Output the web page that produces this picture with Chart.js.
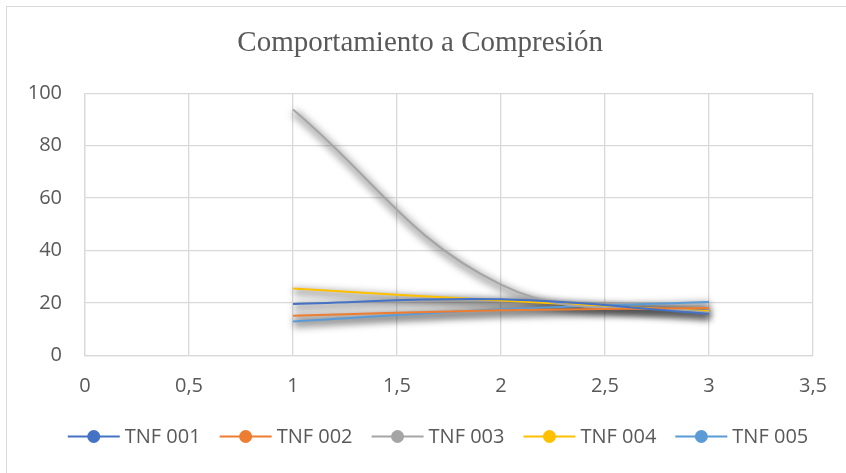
<!DOCTYPE html>
<html>
<head>
<meta charset="utf-8">
<script src="https://cdn.jsdelivr.net/npm/chart.js@4"></script>
<style>
  html, body { margin: 0; padding: 0; background: #ffffff; }
  #wrap { width: 846px; height: 473px; }
</style>
</head>
<body>
<div id="wrap"><canvas id="c" width="846" height="473"></canvas></div>
<script>
// Ensayo a compresión: valores por edad de ensayo
const seriesNames = ['TNF 001', 'TNF 002', 'TNF 003', 'TNF 004', 'TNF 005'];
const xValues = [1, 2, 3];
const tnf001 = [19.6, 21.4, 15.9];
const tnf002 = [15.1, 17.2, 18.1];
const tnf003 = [93.8, 27.0, 16.3];
const tnf004 = [25.5, 20.9, 16.8];
const tnf005 = [12.9, 17.6, 20.4];
const seriesColors = ['#4472C4', '#ED7D31', '#A5A5A5', '#FFC000', '#5B9BD5'];
const xTickLabels = ['0', '0,5', '1', '1,5', '2', '2,5', '3', '3,5'];
const yTickLabels = ['0', '20', '40', '60', '80', '100'];

const allSeries = [tnf001, tnf002, tnf003, tnf004, tnf005];
const TEXT = '#595959';
const GRID = '#D9D9D9';
const FONT = '20px "Open Sans"';

const datasets = seriesNames.map((name, i) => ({
  label: name,
  data: xValues.map((x, j) => ({ x: x, y: allSeries[i][j] })),
  borderColor: seriesColors[i],
  backgroundColor: seriesColors[i],
  borderWidth: 2,
  pointRadius: 0,
  pointHoverRadius: 0,
  tension: 0.4,
  fill: false
}));

// Outer frame, soft shadow under the lines, and the legend row
const decor = {
  id: 'decor',
  beforeDraw(chart) {
    const ctx = chart.ctx;
    ctx.save();
    ctx.fillStyle = '#ffffff';
    ctx.fillRect(0, 0, chart.width, chart.height);
    ctx.strokeStyle = GRID;
    ctx.lineWidth = 1;
    ctx.strokeRect(6.5, 6.5, 900, 900);
    ctx.restore();
  },
  beforeDatasetsDraw(chart) {
    // blurred, thickened copy of every line path, drawn before the lines themselves
    const ctx = chart.ctx;
    ctx.save();
    ctx.filter = 'blur(3.5px)';
    ctx.translate(1, 3);
    chart.getSortedVisibleDatasetMetas().forEach(meta => {
      const el = meta.dataset;
      const orig = el.options;
      el.options = Object.assign({}, orig, { borderColor: 'rgba(40,40,40,0.36)', borderWidth: 8 });
      el.draw(ctx, chart.chartArea);
      el.options = orig;
    });
    ctx.restore();
  },
  afterDraw(chart) {
    const ctx = chart.ctx;
    const sets = chart.data.datasets;
    const lineLen = 52, gapText = 5, gapItem = 19, y = 436.5;
    ctx.save();
    ctx.font = FONT;
    const widths = sets.map(d => ctx.measureText(d.label).width);
    const total = widths.reduce((a, w) => a + lineLen + gapText + w, 0) + gapItem * (sets.length - 1);
    let x = 438 - total / 2;
    sets.forEach((d, i) => {
      ctx.strokeStyle = d.borderColor;
      ctx.lineWidth = 2;
      ctx.beginPath(); ctx.moveTo(x, y); ctx.lineTo(x + lineLen, y); ctx.stroke();
      ctx.fillStyle = d.borderColor;
      ctx.beginPath(); ctx.arc(x + lineLen / 2, y, 6.5, 0, Math.PI * 2); ctx.fill();
      ctx.fillStyle = TEXT;
      ctx.textAlign = 'left';
      ctx.textBaseline = 'middle';
      ctx.fillText(d.label, x + lineLen + gapText, y + 1);
      x += lineLen + gapText + widths[i] + gapItem;
    });
    ctx.restore();
  }
};

new Chart(document.getElementById('c'), {
  type: 'line',
  data: { datasets: datasets },
  plugins: [decor],
  options: {
    responsive: false,
    animation: false,
    events: [],
    layout: { padding: { left: 27, right: 32.7, top: 10, bottom: 55.6 } },
    scales: {
      x: {
        type: 'linear',
        min: 0, max: 3.5,
        ticks: {
          stepSize: 0.5,
          padding: 19,
          color: TEXT,
          font: { family: 'Open Sans', size: 20 },
          callback: (v, i) => xTickLabels[i]
        },
        grid: { color: GRID, lineWidth: 1.3, drawTicks: false },
        border: { color: GRID, width: 1.3 }
      },
      y: {
        min: 0, max: 100,
        ticks: {
          stepSize: 20,
          padding: 23,
          color: TEXT,
          font: { family: 'Open Sans', size: 20 },
          callback: (v, i) => yTickLabels[i]
        },
        grid: { color: GRID, lineWidth: 1.3, drawTicks: false },
        border: { color: GRID, width: 1.3 },
        afterFit(scale) { scale.width = 58; }
      }
    },
    plugins: {
      title: {
        display: true,
        text: 'Comportamiento a Compresión',
        color: TEXT,
        font: { family: 'Liberation Serif', size: 29, weight: 'normal' },
        padding: { top: 16, bottom: 32.5 }
      },
      legend: { display: false },
      tooltip: { enabled: false }
    }
  }
});
</script>
</body>
</html>
